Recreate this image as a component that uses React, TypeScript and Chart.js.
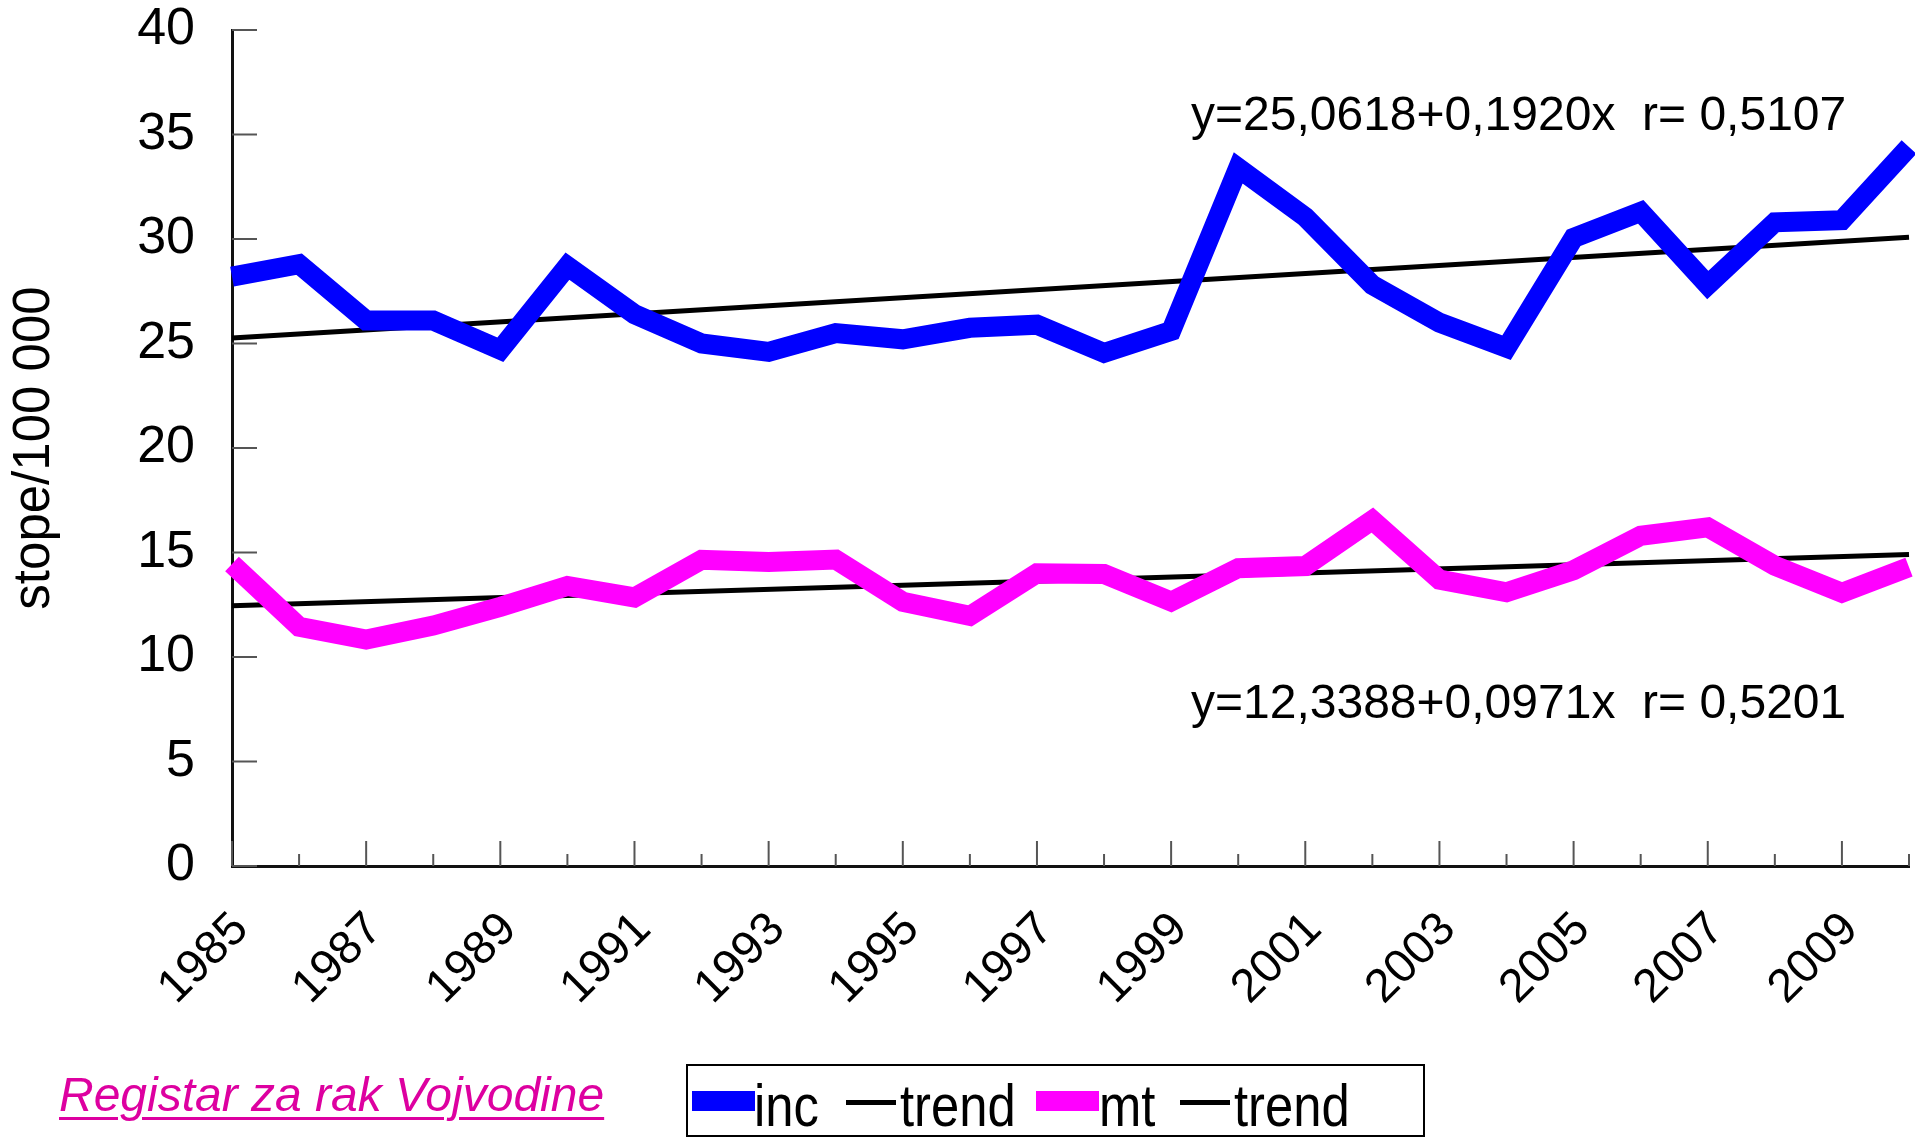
import React, { useEffect, useRef } from "react";
import { Chart, registerables } from "chart.js";

Chart.register(...registerables);

// ---------- data ----------
const years = [
  "1985", "1986", "1987", "1988", "1989", "1990", "1991", "1992", "1993",
  "1994", "1995", "1996", "1997", "1998", "1999", "2000", "2001", "2002",
  "2003", "2004", "2005", "2006", "2007", "2008", "2009", "2010",
];
const incValues = [
  28.2, 28.8, 26.1, 26.1, 24.7, 28.7, 26.4, 25.0, 24.6, 25.5, 25.2, 25.75,
  25.9, 24.55, 25.6, 33.4, 31.05, 27.8, 26.0, 24.8, 30.05, 31.3, 27.8, 30.8,
  30.9, 34.4,
];
const mtValues = [
  14.45, 11.45, 10.83, 11.5, 12.4, 13.4, 12.85, 14.65, 14.55, 14.66, 12.64,
  11.97, 14.0, 13.97, 12.65, 14.25, 14.35, 16.55, 13.7, 13.1, 14.15, 15.8,
  16.2, 14.37, 13.07, 14.3,
];
// trend lines: values read at the first and last year
const incTrendEnds = [25.26, 30.08];
const mtTrendEnds = [12.45, 14.9];
const yMin = 0;
const yMax = 40;
const yStep = 5;
const incEquation = "y=25,0618+0,1920x  r= 0,5107";
const mtEquation = "y=12,3388+0,0971x  r= 0,5201";
const yAxisTitle = "stope/100 000";
const sourceNote = "Registar za rak Vojvodine";
const legendLabels = ["inc", "trend", "mt", "trend"];

const FONT = '"Liberation Sans", Arial, Helvetica, sans-serif';
const W = 1915;
const H = 1138;

const innerTicks = {
  id: "innerTicks",
  beforeDatasetsDraw(chart: any) {
    const { ctx, chartArea, scales } = chart;
    const x = scales.x;
    const y = scales.y;
    ctx.save();
    ctx.strokeStyle = "#555";
    ctx.lineWidth = 2;
    y.ticks.forEach((t: any) => {
      const py = y.getPixelForValue(t.value);
      ctx.beginPath();
      ctx.moveTo(chartArea.left, py);
      ctx.lineTo(chartArea.left + 25, py);
      ctx.stroke();
    });
    x.ticks.forEach((t: any, i: number) => {
      const px = x.getPixelForValue(t.value);
      const len = i % 2 === 0 ? 25 : 12;
      ctx.beginPath();
      ctx.moveTo(px, chartArea.bottom);
      ctx.lineTo(px, chartArea.bottom - len);
      ctx.stroke();
    });
    ctx.restore();
  },
};

const equations = {
  id: "equations",
  afterDraw(chart: any) {
    const { ctx } = chart;
    ctx.save();
    ctx.fillStyle = "#000";
    ctx.font = `48px ${FONT}`;
    ctx.textBaseline = "alphabetic";
    ctx.textAlign = "left";
    ctx.fillText(incEquation, 1191, 130);
    ctx.fillText(mtEquation, 1191, 718);
    ctx.restore();
  },
};

export default function App() {
  const ref = useRef<HTMLCanvasElement | null>(null);

  useEffect(() => {
    if (!ref.current) return;
    Chart.defaults.font.family = FONT;
    const first = years[0];
    const last = years[years.length - 1];
    const chart = new Chart(ref.current, {
      type: "line",
      data: {
        labels: years,
        datasets: [
          {
            label: "inc",
            data: incValues,
            borderColor: "#0000FF",
            backgroundColor: "#0000FF",
            borderWidth: 20,
            borderJoinStyle: "miter",
            borderCapStyle: "butt",
            pointRadius: 0,
            tension: 0,
            clip: false,
            order: 1,
          },
          {
            label: "mt",
            data: mtValues,
            borderColor: "#FF00FF",
            backgroundColor: "#FF00FF",
            borderWidth: 20,
            borderJoinStyle: "miter",
            borderCapStyle: "butt",
            pointRadius: 0,
            tension: 0,
            clip: false,
            order: 2,
          },
          {
            label: "trend",
            data: [
              { x: first, y: incTrendEnds[0] },
              { x: last, y: incTrendEnds[1] },
            ] as any,
            borderColor: "#000",
            borderWidth: 5,
            pointRadius: 0,
            tension: 0,
            order: 3,
          },
          {
            label: "trend",
            data: [
              { x: first, y: mtTrendEnds[0] },
              { x: last, y: mtTrendEnds[1] },
            ] as any,
            borderColor: "#000",
            borderWidth: 5,
            pointRadius: 0,
            tension: 0,
            order: 4,
          },
        ],
      },
      options: {
        responsive: false,
        animation: false,
        layout: { padding: { top: 30, right: 6, left: 0, bottom: 0 } },
        plugins: {
          legend: { display: false },
          tooltip: { enabled: false },
        },
        scales: {
          x: {
            type: "category",
            offset: false,
            grid: { display: false, drawTicks: false },
            border: { display: true, color: "#111", width: 3 },
            ticks: {
              autoSkip: false,
              maxRotation: 45,
              minRotation: 45,
              padding: 36,
              labelOffset: 9,
              color: "#000",
              font: { size: 47 },
              callback: (_v: any, i: number) => (i % 2 === 0 ? years[i] : ""),
            },
            afterFit: (s: any) => {
              s.height = H - 866;
              s.paddingLeft = 0;
              s.paddingRight = 0;
            },
          },
          y: {
            min: yMin,
            max: yMax,
            grid: { display: false, drawTicks: false },
            border: { display: true, color: "#111", width: 3 },
            ticks: {
              stepSize: yStep,
              padding: 37,
              color: "#000",
              font: { size: 52 },
            },
            title: {
              display: true,
              text: yAxisTitle,
              color: "#000",
              font: { size: 51 },
              padding: { top: 4, bottom: 0 },
            },
            afterFit: (s: any) => {
              s.width = 232;
              s.paddingTop = 0;
              s.paddingBottom = 0;
            },
          },
        },
      } as any,
      plugins: [innerTicks, equations],
    });
    return () => chart.destroy();
  }, []);

  const textStyle = (left: number, top: number): React.CSSProperties => ({
    position: "absolute",
    left,
    top,
    fontFamily: FONT,
    fontSize: 59,
    lineHeight: "59px",
    color: "#000",
    transform: "scaleX(0.86)",
    transformOrigin: "left center",
    whiteSpace: "nowrap",
  });

  const markerLefts = [692, 846, 1036, 1180];
  const textLefts = [754, 900, 1099, 1234];
  const markerKinds = ["box", "line", "box", "line"];
  const markerColors = ["#0000FF", "#000", "#FF00FF", "#000"];

  return (
    <div
      style={{
        position: "fixed",
        left: 0,
        top: 0,
        width: W,
        height: H,
        background: "#fff",
        overflow: "hidden",
      }}
    >
      <canvas
        ref={ref}
        width={W}
        height={H}
        style={{ position: "absolute", left: 0, top: 0, width: W, height: H }}
      />
      <span
        style={{
          position: "absolute",
          left: 59,
          top: 1071,
          fontFamily: FONT,
          fontSize: 48,
          lineHeight: "48px",
          fontStyle: "italic",
          textDecoration: "underline",
          textDecorationThickness: "3px",
          textUnderlineOffset: "6px",
          color: "#DD00A0",
          whiteSpace: "nowrap",
        }}
      >
        {sourceNote}
      </span>
      <div
        style={{
          position: "absolute",
          left: 686,
          top: 1064,
          width: 739,
          height: 73,
          border: "2px solid #000",
          boxSizing: "border-box",
        }}
      />
      {legendLabels.map((lab, i) => (
        <React.Fragment key={i}>
          {markerKinds[i] === "box" ? (
            <div
              style={{
                position: "absolute",
                left: markerLefts[i],
                top: 1091,
                width: 63,
                height: 20,
                background: markerColors[i],
              }}
            />
          ) : (
            <div
              style={{
                position: "absolute",
                left: markerLefts[i],
                top: 1100,
                width: 50,
                height: 5,
                background: markerColors[i],
              }}
            />
          )}
          <span style={textStyle(textLefts[i], 1077)}>{lab}</span>
        </React.Fragment>
      ))}
    </div>
  );
}
